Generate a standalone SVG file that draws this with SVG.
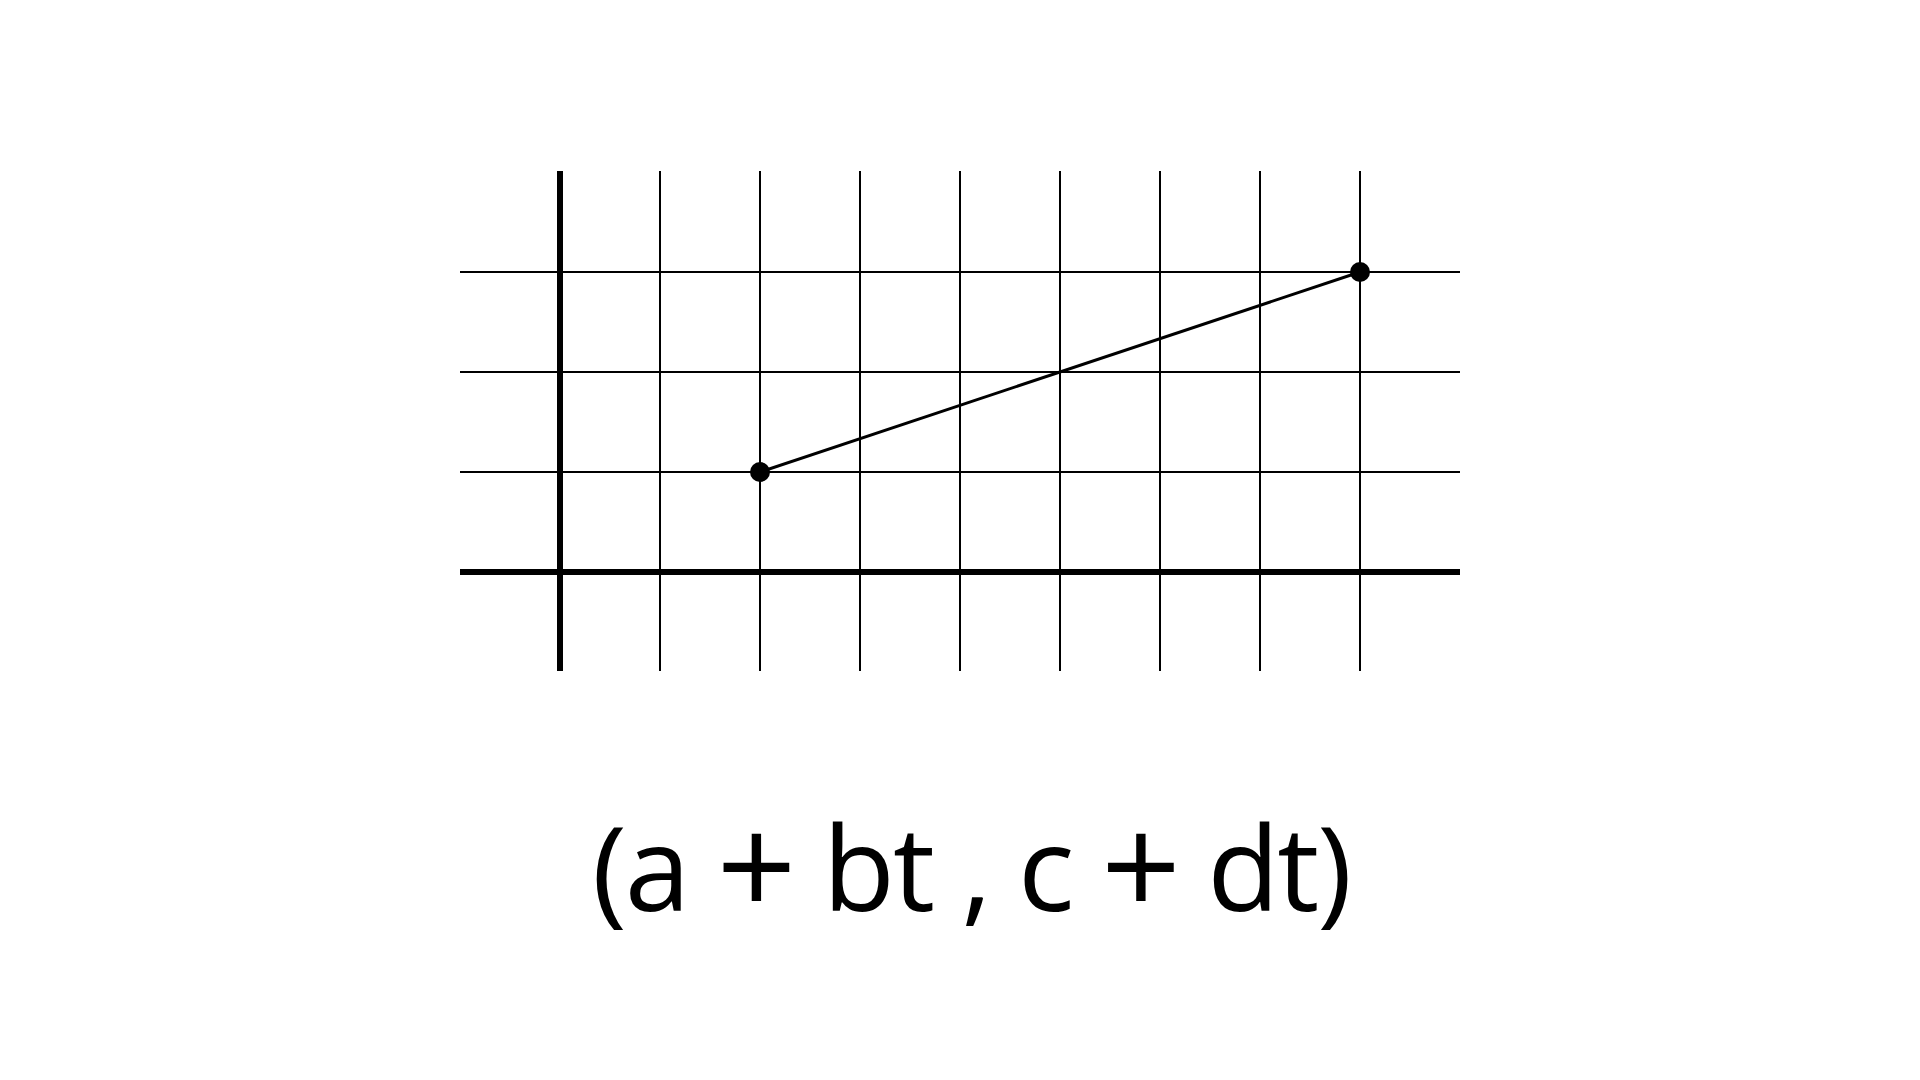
<svg xmlns="http://www.w3.org/2000/svg" width="1920" height="1080" viewBox="0 0 1920 1080">
<style>
.grid{stroke:#000;stroke-width:2;fill:none}
.axis{stroke:#000;stroke-width:6;fill:none}
.seg{stroke:#000;stroke-width:3;fill:none}
.pt{fill:#000}
.lbl{font-family:"Open Sans","Noto Sans",sans-serif;font-size:118px;fill:#000}
.plus{font-size:140px}
</style>
<rect width="1920" height="1080" fill="#fff"/>
<g id="grid">
<path class="grid" d="M660 171V671M760 171V671M860 171V671M960 171V671M1060 171V671M1160 171V671M1260 171V671M1360 171V671"/>
<path class="grid" d="M460 272H1460M460 372H1460M460 472H1460"/>
</g>
<g id="axes">
<path class="axis" d="M560 171V671"/>
<path class="axis" d="M460 572H1460"/>
</g>
<g id="connectors">
<path class="seg" d="M760 472L1360 272"/>
</g>
<g id="p1"><circle class="pt" cx="760" cy="472" r="10"/></g>
<g id="p2"><circle class="pt" cx="1360" cy="272" r="10"/></g>
<g id="label">
<text class="lbl" x="592" y="911" textLength="760" lengthAdjust="spacing">(a <tspan class="plus" dy="6">+</tspan><tspan dy="-6"> bt , c </tspan><tspan class="plus" dy="6">+</tspan><tspan dy="-6"> dt)</tspan></text>
</g>
</svg>
